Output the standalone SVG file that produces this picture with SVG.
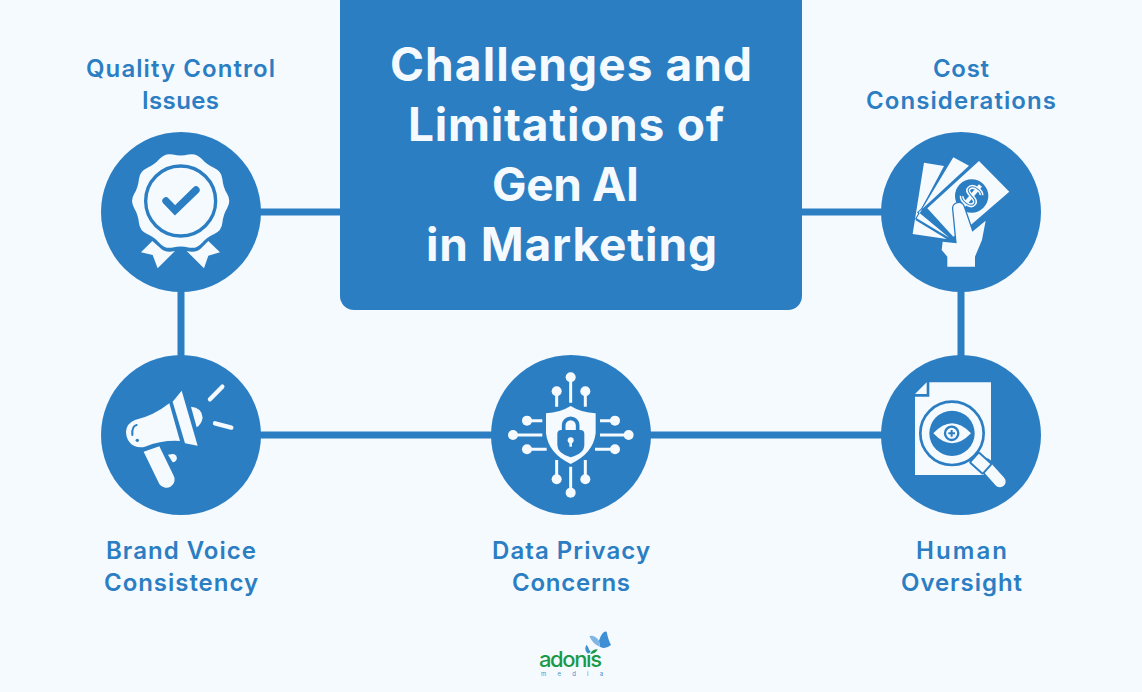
<svg xmlns="http://www.w3.org/2000/svg" width="1142" height="692" viewBox="0 0 1142 692">
<style>
.disc{fill:#2c7ec3}
.w{fill:#f5faff}
.b{fill:#2c7ec3}
.bill{fill:#f5faff;stroke:#2c7ec3;stroke-width:7;paint-order:stroke;stroke-linejoin:miter}
.wl{stroke:#f5faff;fill:none;stroke-linecap:round}
.bl{stroke:#2c7ec3;fill:none;stroke-linecap:round}
.title{font-family:Inter,"Liberation Sans",sans-serif;font-weight:700;font-size:46px;fill:#f5faff}
.label{font-family:Inter,"Liberation Sans",sans-serif;font-weight:600;font-size:24px;fill:#2c7ec3}
#connectors line{stroke:#2c7ec3;stroke-width:7}
</style>
<rect width="1142" height="692" fill="#f5faff"/>
<g id="connectors">
<line x1="255" y1="212" x2="345" y2="212"/>
<line x1="797" y1="212" x2="887" y2="212"/>
<line x1="181" y1="285" x2="181" y2="362"/>
<line x1="961" y1="285" x2="961" y2="362"/>
<line x1="255" y1="435" x2="497" y2="435"/>
<line x1="645" y1="435" x2="887" y2="435"/>
</g>
<g id="title-box">
<path class="b" d="M340 0H802V296A14 14 0 0 1 788 310H354A14 14 0 0 1 340 296Z"/>
<text class="title" x="390" y="81" textLength="362" lengthAdjust="spacing">Challenges and</text>
<text class="title" x="408" y="141" textLength="316" lengthAdjust="spacing">Limitations of</text>
<text class="title" x="492" y="201" textLength="147" lengthAdjust="spacing">Gen AI</text>
<text class="title" x="426" y="261" textLength="291" lengthAdjust="spacing">in Marketing</text>
</g>
<g id="quality-control">
<circle class="disc" cx="181" cy="212" r="80"/>
<g transform="translate(90 125) scale(.3333)">
<path class="w" d="M411.7 207.300Q399.4 186.600 397.2 162.600Q395 138.600 372.900 129.100Q350.800 119.600 334.900 101.500Q319 83.400 295.500 88.700Q272 94 248.500 88.700Q225 83.400 209.100 101.500Q193.200 119.600 171.100 129.100Q149 138.600 146.800 162.600Q144.600 186.600 132.300 207.300Q120 228 132.300 248.700Q144.600 269.400 146.800 293.400Q149 317.400 171.100 326.900Q193.200 336.400 209.100 354.500Q225 372.600 248.500 367.300Q272 362 295.500 367.300Q319 372.600 334.900 354.500Q350.800 336.400 372.900 326.900Q395 317.400 397.200 293.400Q399.400 269.400 411.700 248.700Q424 228 411.700 207.300Z"/>
<circle cx="272" cy="228" r="105" fill="none" stroke="#2c7ec3" stroke-width="10"/>
<path d="M228 228L255 256L318 195" fill="none" stroke="#2c7ec3" stroke-width="22" stroke-linecap="round"/>
<path class="w" d="M187 348L153 382L188 390L203 430L255 378Q225 385 210 368Z"/>
<path class="w" d="M355 348L390 382L355 392L342 430L290 378Q320 385 335 368Z"/>
</g>
<text class="label" x="86" y="76.500" textLength="189" lengthAdjust="spacing">Quality Control</text>
<text class="label" x="142" y="108.500" textLength="77" lengthAdjust="spacing">Issues</text>
</g>
<g id="cost">
<circle class="disc" cx="961" cy="212" r="80"/>
<g transform="translate(870 125) scale(.3333)">
<path class="bill" d="M162 113L222 123L136 285L230 342L128 327Z"/>
<path class="bill" d="M250 97L297 122L146 262L238 338L140 280Z"/>
<path class="bill" d="M327 108L418 200L305 298L250 335L172 250Z"/>
<circle class="b" cx="305" cy="213" r="50"/>
<g transform="rotate(40 305 213)" fill="none">
<path d="M326 192C318 182 284 182 284 202C284 220 326 206 326 226C326 244 290 244 282 232M305 172V254" stroke="#f5faff" stroke-width="12"/>
<path d="M326 192C318 182 284 182 284 202C284 220 326 206 326 226C326 244 290 244 282 232" stroke="#2c7ec3" stroke-width="3"/>
</g>
<path class="w" stroke="#2c7ec3" stroke-width="8" paint-order="stroke" d="M250 252A16 16 0 0 1 281 245L307 320L347 287L336 345L315 395V425H232V395L215 375L218 350L260 355Z"/>
</g>
<text class="label" x="933" y="76.500" textLength="56" lengthAdjust="spacing">Cost</text>
<text class="label" x="866" y="108.500" textLength="190" lengthAdjust="spacing">Considerations</text>
</g>
<g id="brand-voice">
<circle class="disc" cx="181" cy="435" r="80"/>
<g transform="translate(90 350) scale(.3333)">
<path class="w" d="M238 160L270 273Q215 270 165 290Q150 295 133 288Q108 275 108 245Q110 220 135 210Q190 198 238 160Z"/>
<path class="w" d="M275 122L248 155L285 280L323 287Z"/>
<path class="w" d="M303 170Q335 172 338 203Q335 222 320 232Z"/>
<path class="w" d="M161 305L208 289L250 375A21 21 0 0 1 208 402Z"/>
<path class="w" d="M234 314L248 312A11 11 0 0 1 248 337Z"/>
<line class="wl" x1="360" y1="148" x2="397" y2="110" stroke-width="13"/>
<line class="wl" x1="375" y1="220" x2="424" y2="233" stroke-width="13"/>
<path class="bl" d="M140 225Q125 228 127 255" stroke-width="6"/>
<circle class="b" cx="142" cy="271" r="5"/>
</g>
<text class="label" x="106" y="558.500" textLength="150" lengthAdjust="spacing">Brand Voice</text>
<text class="label" x="104" y="590.500" textLength="154" lengthAdjust="spacing">Consistency</text>
</g>
<g id="data-privacy">
<circle class="disc" cx="571" cy="435" r="80"/>
<g transform="translate(480 350) scale(.3333)">
<path class="w" d="M272 168Q240 188 198 190V250Q205 310 272 342Q340 310 347 250V190Q304 188 272 168Z"/>
<path class="bl" d="M251 245V226A21 21 0 0 1 293 226V245" stroke-width="11"/>
<path class="b" d="M232 252Q232 240 244 240H301Q313 240 313 252V285Q313 310 272 322Q232 310 232 285Z"/>
<circle class="w" cx="272" cy="271" r="9"/>
<rect class="w" x="268" y="272" width="8" height="18"/>
<g class="wl" stroke-width="9" style="stroke-linecap:butt">
<path d="M272 90V158M230 130V170M316 130V170M272 350V420M230 330V380M316 330V380M105 255H187M135 212H187M135 298H200M440 255H360M405 212H360M405 298H345"/>
</g>
<g class="w">
<circle cx="272" cy="82" r="15"/><circle cx="230" cy="124" r="15"/><circle cx="316" cy="124" r="15"/>
<circle cx="272" cy="428" r="15"/><circle cx="230" cy="388" r="15"/><circle cx="316" cy="388" r="15"/>
<circle cx="99" cy="255" r="15"/><circle cx="141" cy="212" r="15"/><circle cx="141" cy="298" r="15"/>
<circle cx="446" cy="255" r="15"/><circle cx="405" cy="212" r="15"/><circle cx="405" cy="298" r="15"/>
</g>
</g>
<text class="label" x="492" y="558.500" textLength="158" lengthAdjust="spacing">Data Privacy</text>
<text class="label" x="512" y="590.500" textLength="118" lengthAdjust="spacing">Concerns</text>
</g>
<g id="human-oversight">
<circle class="disc" cx="961" cy="435" r="80"/>
<g transform="translate(870 350) scale(.3333)">
<path class="w" d="M178 97H363V375H135V140H178Z"/>
<path class="w" d="M170 97V132H135Z"/>
<line x1="345" y1="345" x2="390" y2="395" stroke="#2c7ec3" stroke-width="44" stroke-linecap="round"/>
<line x1="345" y1="345" x2="390" y2="395" stroke="#f5faff" stroke-width="34" stroke-linecap="round"/>
<g transform="rotate(42 333 340)"><rect x="306" y="320" width="52" height="40" rx="3" fill="#f5faff" stroke="#2c7ec3" stroke-width="6"/></g>
<circle cx="246" cy="250" r="95" fill="#f5faff" stroke="#2c7ec3" stroke-width="8"/>
<circle class="b" cx="246" cy="250" r="68"/>
<path class="w" d="M190 250Q246 190 303 250Q246 310 190 250Z"/>
<circle cx="245" cy="250" r="20" fill="#f5faff" stroke="#2c7ec3" stroke-width="7"/>
<path d="M245 240V260M235 250H255" stroke="#2c7ec3" stroke-width="6"/>
</g>
<text class="label" x="916" y="558.500" textLength="91" lengthAdjust="spacing">Human</text>
<text class="label" x="901" y="590.500" textLength="121" lengthAdjust="spacing">Oversight</text>
</g>
<g id="logo">
<text x="539" y="667" textLength="63" lengthAdjust="spacing" font-family="Inter,'Liberation Sans',sans-serif" font-weight="500" font-size="22" fill="#1a9a48">adonis</text>
<text x="541" y="676" textLength="62" lengthAdjust="spacing" font-family="Inter,'Liberation Sans',sans-serif" font-size="6" fill="#4a8fc9">media</text>
<g transform="translate(525 620) scale(.3333)">
<path fill="#3f8fd6" d="M222 62Q232 32 245 35Q250 60 258 75Q240 90 225 80Z"/>
<path fill="#7fb6e4" d="M193 48Q210 45 222 62L225 80Q205 75 193 48Z"/>
<path fill="#3f8fd6" d="M184 74Q196 85 190 102Q176 92 184 74Z"/>
<path fill="#1a9a48" d="M196 102Q200 88 218 88Q214 100 196 102Z"/>
</g>
</g>
</svg>
